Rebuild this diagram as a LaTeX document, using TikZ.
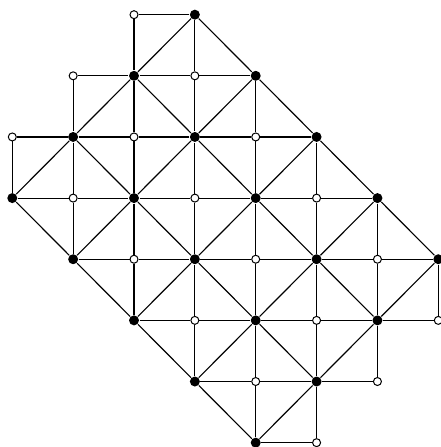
\documentclass[tikz,border=0pt]{standalone}
\begin{document}
\begin{tikzpicture}[x=1.5cm, y=1.507cm, line width=0.8pt,
    zwart/.style={circle, fill=black, inner sep=0pt, minimum size=7pt},
    wit/.style={circle, draw=black, fill=white, line width=0.7pt, inner sep=0pt, minimum size=5.6pt}]

      \useasboundingbox (-0.202,0.240) rectangle (7.044,-7.071);

      % ============================================================
      % PUNTEN: zwart als c+r oneven, anders wit
      % ============================================================

      \foreach \r/\a/\b in {0/2/3, 1/1/4, 2/0/5, 3/0/6, 4/1/7, 5/2/7, 6/3/6, 7/4/5} {
        \foreach \c in {\a,...,\b} {
          \pgfmathtruncatemacro\kleur{mod(\c+\r,2)}
          \ifnum\kleur=1
            \node[zwart] (p\c\r) at (\c,-\r) {};
          \else
            \node[wit] (p\c\r) at (\c,-\r) {};
          \fi
        }
      }

      % ============================================================
      % ROOSTER: horizontale en verticale lijnen
      % ============================================================

      \foreach \r/\a/\b in {0/2/3, 1/1/4, 2/0/5, 3/0/6, 4/1/7, 5/2/7, 6/3/6, 7/4/5} {
        \pgfmathtruncatemacro\eind{\b-1}
        \foreach \c in {\a,...,\eind} {
          \pgfmathtruncatemacro\cn{\c+1}
          % horizontaal in rij \r
          \draw (p\c\r) -- (p\cn\r);
          % verticaal in kolom \r (zelfde patroon)
          \draw (p\r\c) -- (p\r\cn);
        }
      }

      % ============================================================
      % DIAGONALEN: alleen tussen zwarte punten
      % ============================================================

      \foreach \u in {3,5,7,9,11} {
        \foreach \v in {-3,-1,1,3} {
          \pgfmathtruncatemacro\c{(\u+\v)/2}
          \pgfmathtruncatemacro\r{(\u-\v)/2}
          \pgfmathtruncatemacro\cn{\c+1}
          \pgfmathtruncatemacro\rn{\r+1}
          \pgfmathtruncatemacro\rv{\r-1}
          \ifnum\u<11
            \draw (p\c\r) -- (p\cn\rn);
          \fi
          \ifnum\v<3
            \draw (p\c\r) -- (p\cn\rv);
          \fi
        }
      }

\end{tikzpicture}
\end{document}
